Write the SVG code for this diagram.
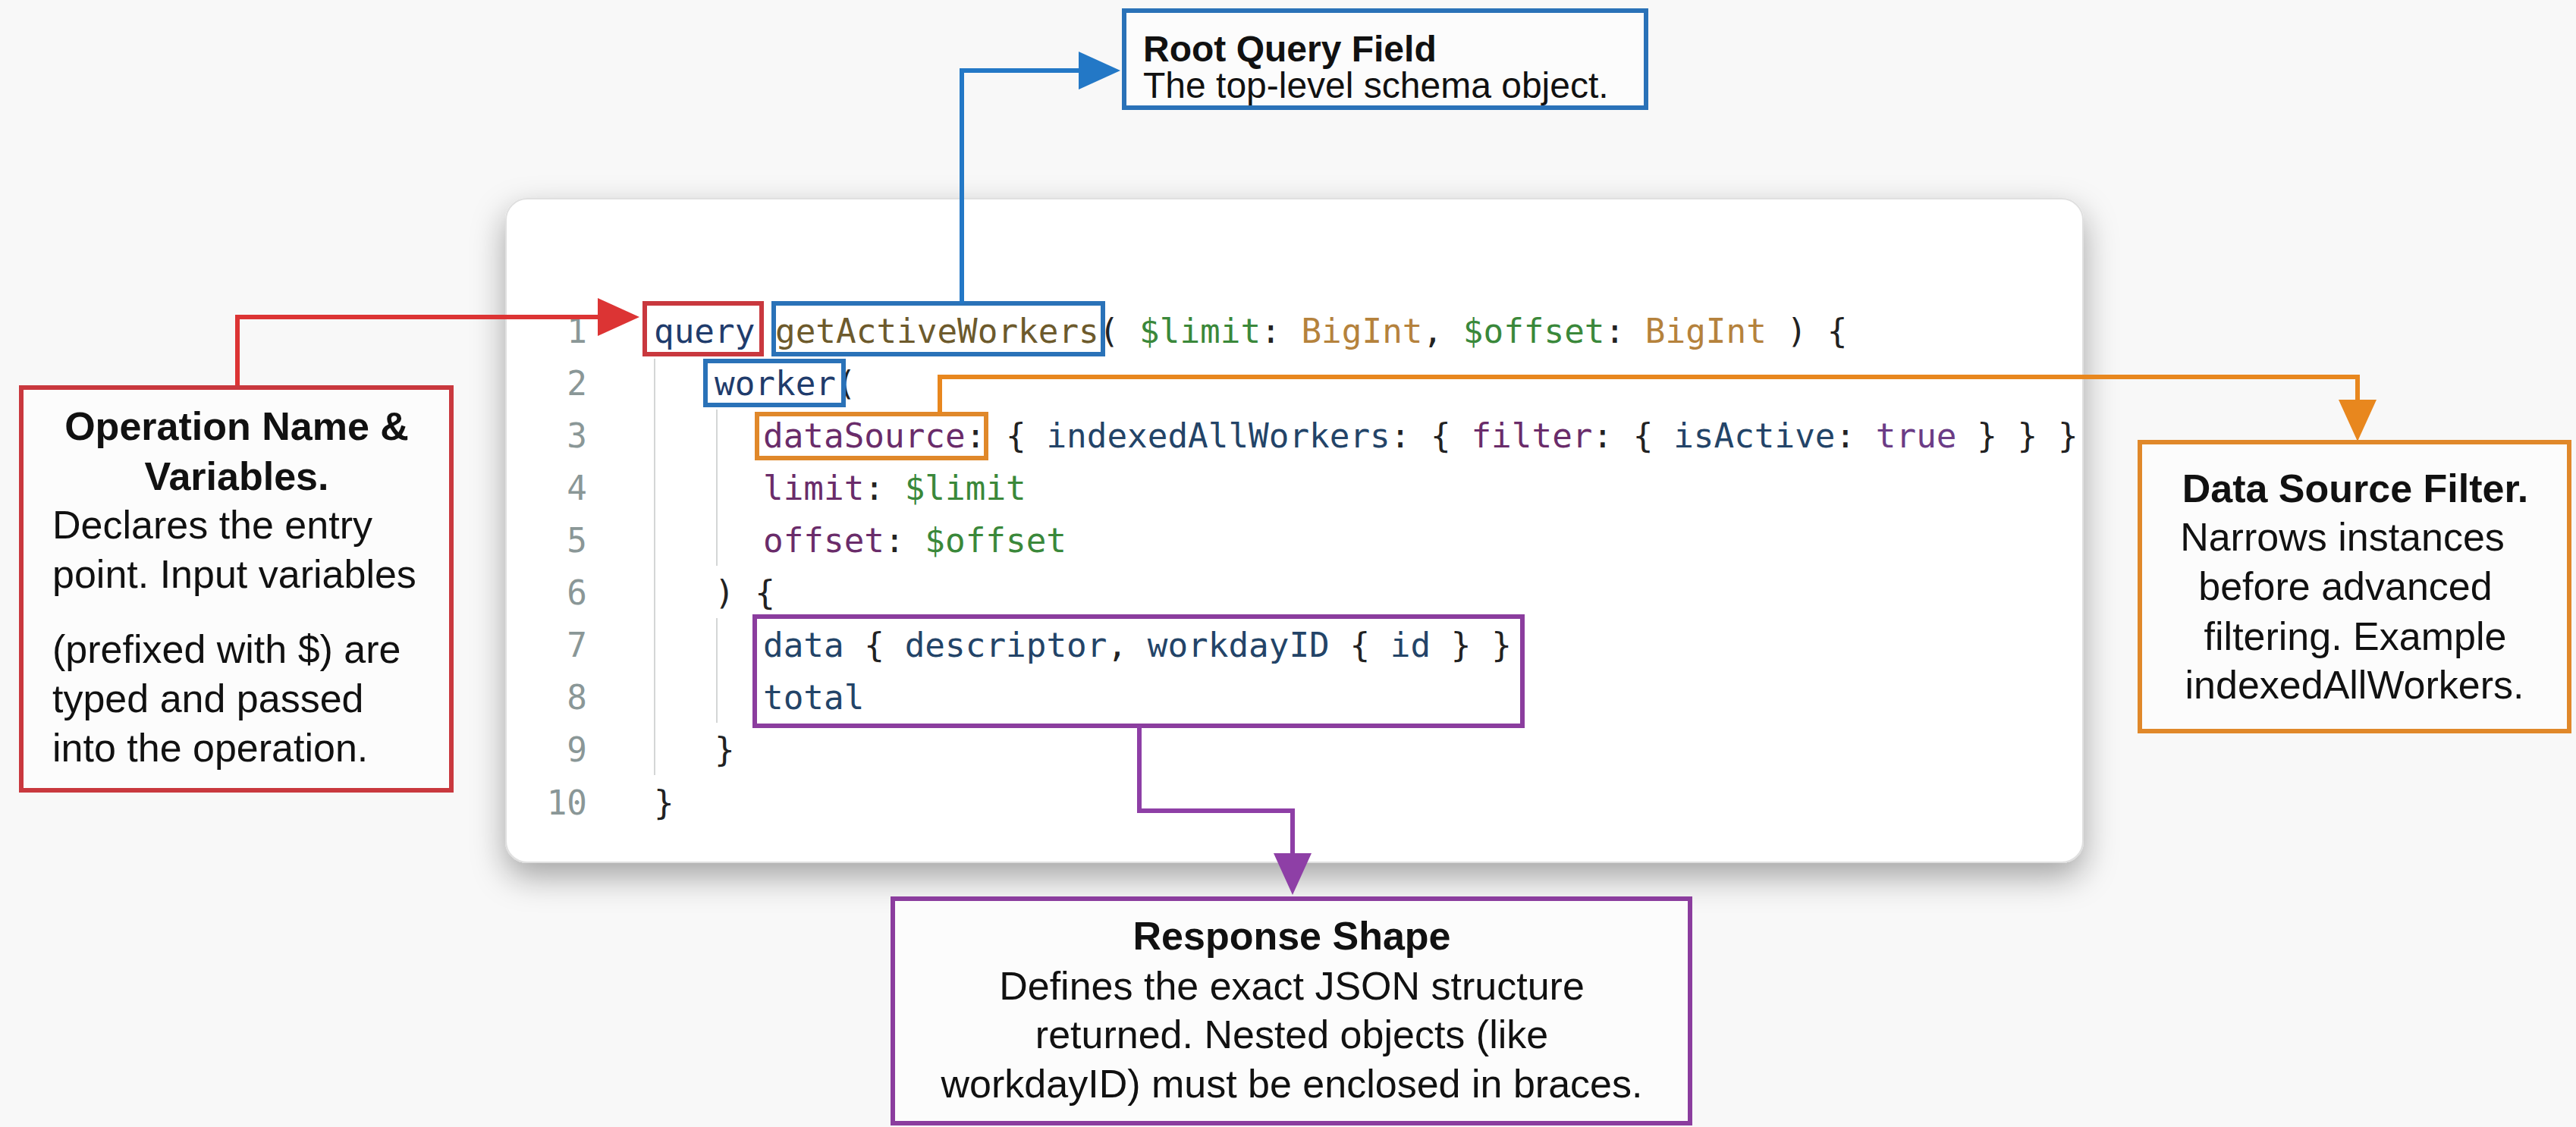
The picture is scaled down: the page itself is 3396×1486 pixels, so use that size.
<svg xmlns="http://www.w3.org/2000/svg" width="3396" height="1486" viewBox="0 0 3396 1486">
  <defs>
    <filter id="panelShadow" x="-5%" y="-10%" width="110%" height="128%">
      <feDropShadow dx="0" dy="18" stdDeviation="22" flood-color="#000" flood-opacity="0.34"/>
    </filter>
    <marker id="arrRed" markerUnits="userSpaceOnUse" markerWidth="55" markerHeight="50" refX="35" refY="25" orient="auto">
      <path d="M0,0 L55,25 L0,50 Z" fill="#dc3434"/>
    </marker>
    <marker id="arrBlue" markerUnits="userSpaceOnUse" markerWidth="55" markerHeight="50" refX="35" refY="25" orient="auto">
      <path d="M0,0 L55,25 L0,50 Z" fill="#2378c6"/>
    </marker>
    <marker id="arrOrange" markerUnits="userSpaceOnUse" markerWidth="55" markerHeight="50" refX="35" refY="25" orient="auto">
      <path d="M0,0 L55,25 L0,50 Z" fill="#e8871e"/>
    </marker>
    <marker id="arrPurple" markerUnits="userSpaceOnUse" markerWidth="55" markerHeight="50" refX="35" refY="25" orient="auto">
      <path d="M0,0 L55,25 L0,50 Z" fill="#8e3fa6"/>
    </marker>
  </defs>
  <style>
    .code { font-family: "DejaVu Sans Mono", "Liberation Mono", monospace; font-size: 44.3px; fill: #222222; }
    .ln { font-family: "DejaVu Sans Mono", "Liberation Mono", monospace; font-size: 44.3px; fill: #8a9797; text-anchor: end; }
    .kw { fill: #1f3c6c; }
    .fn { fill: #6d5a2c; }
    .var { fill: #3a883a; }
    .ty { fill: #b5823c; }
    .prop { fill: #6a2c6a; }
    .fld { fill: #234468; }
    .bool { fill: #6b3c86; }
    .guide { stroke: #d4d6d6; stroke-width: 2; }
    .hl { fill: none; stroke-width: 6; }
    .call { fill: #fdfdfd; fill-opacity: 0.85; stroke-width: 6; }
    .title { font-family: "Liberation Sans", Arial, sans-serif; font-weight: bold; fill: #111111; }
    .body { font-family: "Liberation Sans", Arial, sans-serif; fill: #111111; }
    .conn { fill: none; stroke-width: 6; stroke-linejoin: miter; }
  </style>

  <rect x="0" y="0" width="3396" height="1486" fill="#f8f8f8"/>

  <g id="code-panel">
    <rect x="667" y="262" width="2079" height="875" rx="28" fill="#ffffff" stroke="#e0e0e0" stroke-width="2" filter="url(#panelShadow)"/>
    <line class="guide" x1="863" y1="473" x2="863" y2="1022"/>
    <line class="guide" x1="945" y1="540" x2="945" y2="746"/>
    <line class="guide" x1="945" y1="815" x2="945" y2="953"/>
    <text class="ln" x="774" y="452">1</text>
    <text class="ln" x="774" y="521">2</text>
    <text class="ln" x="774" y="590">3</text>
    <text class="ln" x="774" y="659">4</text>
    <text class="ln" x="774" y="728">5</text>
    <text class="ln" x="774" y="797">6</text>
    <text class="ln" x="774" y="866">7</text>
    <text class="ln" x="774" y="935">8</text>
    <text class="ln" x="774" y="1004">9</text>
    <text class="ln" x="774" y="1074">10</text>
    <text class="code" x="862" y="452" xml:space="preserve"><tspan class="kw">query</tspan> <tspan class="fn">getActiveWorkers</tspan>( <tspan class="var">$limit</tspan>: <tspan class="ty">BigInt</tspan>, <tspan class="var">$offset</tspan>: <tspan class="ty">BigInt</tspan> ) {</text>
    <text class="code" x="942" y="521" xml:space="preserve"><tspan class="kw">worker</tspan>(</text>
    <text class="code" x="1006" y="590" xml:space="preserve"><tspan class="prop">dataSource</tspan>: { <tspan class="fld">indexedAllWorkers</tspan>: { <tspan class="prop">filter</tspan>: { <tspan class="fld">isActive</tspan>: <tspan class="bool">true</tspan> } } }</text>
    <text class="code" x="1006" y="659" xml:space="preserve"><tspan class="prop">limit</tspan>: <tspan class="var">$limit</tspan></text>
    <text class="code" x="1006" y="728" xml:space="preserve"><tspan class="prop">offset</tspan>: <tspan class="var">$offset</tspan></text>
    <text class="code" x="942" y="797" xml:space="preserve">) {</text>
    <text class="code" x="1006" y="866" xml:space="preserve"><tspan class="fld">data</tspan> { <tspan class="fld">descriptor</tspan>, <tspan class="fld">workdayID</tspan> { <tspan class="fld">id</tspan> } }</text>
    <text class="code" x="1006" y="935" xml:space="preserve"><tspan class="fld">total</tspan></text>
    <text class="code" x="942" y="1004">}</text>
    <text class="code" x="862" y="1074">}</text>
  </g>

  <g id="highlights">
    <rect id="hl-query" class="hl" x="850" y="400" width="154" height="67" stroke="#c9383e"/>
    <rect id="hl-root" class="hl" x="1020" y="400" width="434" height="67" stroke="#2a72b8"/>
    <rect id="hl-worker" class="hl" x="930" y="476" width="182" height="58" stroke="#2a72b8"/>
    <rect id="hl-datasource" class="hl" x="998" y="546" width="302" height="58" stroke="#e0882a"/>
    <rect id="hl-response" class="hl" x="995" y="813" width="1012" height="144" stroke="#8b3d9e"/>
  </g>

  <g id="connectors">
    <path class="conn" d="M313,511 V418 H823" stroke="#dc3434" marker-end="url(#arrRed)"/>
    <path class="conn" d="M1268,400 V93 H1457" stroke="#2378c6" marker-end="url(#arrBlue)"/>
    <path class="conn" d="M1239,546 V497 H3108 V562" stroke="#e8871e" marker-end="url(#arrOrange)"/>
    <path class="conn" d="M1502,957 V1069 H1704 V1160" stroke="#8e3fa6" marker-end="url(#arrPurple)"/>
  </g>

  <g id="node-root-query-field">
    <rect class="call" x="1482" y="14" width="688" height="128" stroke="#2a72b8"/>
    <text class="title" x="1507" y="81" font-size="48">Root Query Field</text>
    <text class="body" x="1507" y="129" font-size="48">The top-level schema object.</text>
  </g>

  <g id="node-operation">
    <rect class="call" x="28" y="511" width="567" height="531" stroke="#c9383e"/>
    <text class="title" x="312" y="580" font-size="52" text-anchor="middle">Operation Name &amp;</text>
    <text class="title" x="312" y="646" font-size="52" text-anchor="middle">Variables.</text>
    <text class="body" x="69" y="710" font-size="52">Declares the entry</text>
    <text class="body" x="69" y="775" font-size="52">point. Input variables</text>
    <text class="body" x="69" y="874" font-size="52">(prefixed with $) are</text>
    <text class="body" x="69" y="939" font-size="52">typed and passed</text>
    <text class="body" x="69" y="1004" font-size="52">into the operation.</text>
  </g>

  <g id="node-data-source-filter">
    <rect class="call" x="2821" y="583" width="566" height="381" stroke="#e0882a"/>
    <text class="title" x="3105" y="662" font-size="52" text-anchor="middle">Data Source Filter.</text>
    <text class="body" x="3088" y="726" font-size="52" text-anchor="middle">Narrows instances</text>
    <text class="body" x="3092" y="791" font-size="52" text-anchor="middle">before advanced</text>
    <text class="body" x="3105" y="857" font-size="52" text-anchor="middle">filtering. Example</text>
    <text class="body" x="3104" y="921" font-size="52" text-anchor="middle">indexedAllWorkers.</text>
  </g>

  <g id="node-response-shape">
    <rect class="call" x="1177" y="1185" width="1051" height="296" stroke="#8b3d9e"/>
    <text class="title" x="1703" y="1252" font-size="52" text-anchor="middle">Response Shape</text>
    <text class="body" x="1703" y="1318" font-size="52" text-anchor="middle">Defines the exact JSON structure</text>
    <text class="body" x="1703" y="1382" font-size="52" text-anchor="middle">returned. Nested objects (like</text>
    <text class="body" x="1703" y="1447" font-size="52" text-anchor="middle">workdayID) must be enclosed in braces.</text>
  </g>
</svg>
